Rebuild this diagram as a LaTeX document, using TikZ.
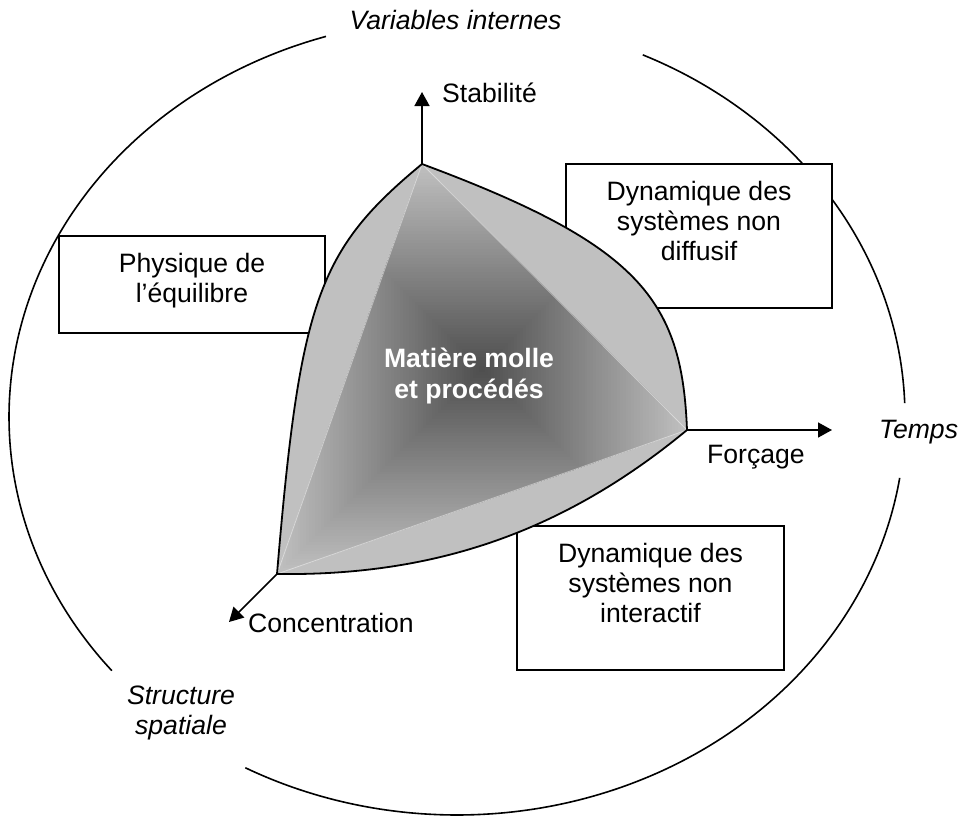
\documentclass[tikz,border=0pt]{standalone}
\usepackage{fontspec}
\setmainfont{Liberation Sans}
\usetikzlibrary{arrows.meta}
\definecolor{shapegray}{HTML}{C0C0C0}
\begin{document}
\begin{tikzpicture}[x=1pt,y=-1pt,
  txt/.style={font=\fontsize{26.6pt}{30pt}\selectfont, inner sep=0pt, align=center},
  itxt/.style={font=\fontsize{26.6pt}{30pt}\selectfont\itshape, inner sep=0pt, align=center},
  boxst/.style={draw, line width=1.6pt, fill=white, inner sep=0pt},
  outl/.style={line width=1.8pt},
  ring/.style={line width=1.6pt},
  axisarrow/.style={line width=1.6pt, -{Triangle[length=14pt,width=15pt]}},
]
\useasboundingbox (0,0) rectangle (962,817);

% outer ellipse (three arcs with gaps for the labels)
\draw[ring] plot[domain=294.5:358, samples=60, smooth] ({457+448*cos(\x)},{417+398*sin(\x)});
\draw[ring] plot[domain=368.8:478.2, samples=90, smooth] ({457+448*cos(\x)},{417+398*sin(\x)});
\draw[ring] plot[domain=140.4:253, samples=90, smooth] ({457+448*cos(\x)},{417+398*sin(\x)});

% labels of the ellipse
\node[itxt, anchor=base] (varint) at (455.5,29) {Variables internes};
\node[itxt, anchor=base west] (temps) at (879,438) {Temps};
\node[itxt, anchor=center] (struct) at (181,713) {Structure\\spatiale};

% boxes
\node[boxst, minimum width=266pt, minimum height=97pt] (phys) at (192,284.5) {};
\node[boxst, minimum width=266pt, minimum height=144pt] (diff) at (699,236) {};
\node[boxst, minimum width=267pt, minimum height=144pt] (inter) at (650.5,598) {};
\node[txt, anchor=north] (physT) at (192,253) {Physique de\\l’équilibre};
\node[txt, anchor=north] (diffT) at (699,181) {Dynamique des\\systèmes non\\diffusif};
\node[txt, anchor=north] (interT) at (650.5,543) {Dynamique des\\systèmes non\\interactif};

% central shape
\coordinate (T) at (422,164);
\coordinate (R) at (687,430);
\coordinate (L) at (277,574);
\fill[shapegray] (T) .. controls (640,245) and (682,300) .. (R)
  .. controls (560,535) and (430,576) .. (L)
  .. controls (300,300) and (318,250) .. (T) -- cycle;
\begin{scope}
  \clip (T) -- (R) -- (L) -- cycle;
  \foreach \i in {0,...,69}{
    \pgfmathsetmacro\h{205*(1-\i/70)}
    \pgfmathsetmacro\p{25+44*\i/69}
    \fill[black!\p] ({482-\h},{369-\h}) rectangle ({482+\h},{369+\h});
  }
\end{scope}
\draw[white, opacity=0.45, line width=0.8pt] (T) -- (R) -- (L) -- cycle;
\draw[outl] (T) .. controls (640,245) and (682,300) .. (R)
  .. controls (560,535) and (430,576) .. (L)
  .. controls (300,300) and (318,250) .. (T) -- cycle;

\node[txt, anchor=north, text=white, font=\fontsize{26.6pt}{31pt}\selectfont\bfseries] (core) at (469,348) {Matière molle\\et procédés};

% axes
\coordinate (Tend) at (422,92);
\coordinate (Rend) at (832,430);
\coordinate (Lend) at (229,622);
\draw[axisarrow] (T) -- (Tend);
\draw[axisarrow] (R) -- (Rend);
\draw[axisarrow] (L) -- (Lend);
\node[txt, anchor=base west] (stab) at (442,102) {Stabilité};
\node[txt, anchor=base west] (forc) at (707,463) {Forçage};
\node[txt, anchor=base west] (conc) at (248,632) {Concentration};
\end{tikzpicture}
\end{document}
